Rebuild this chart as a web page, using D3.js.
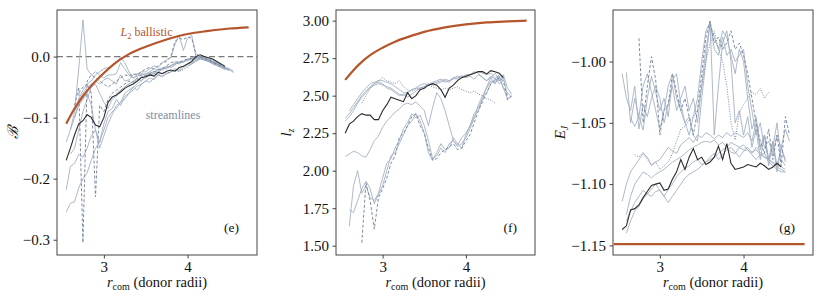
<!DOCTYPE html>
<html>
<head>
<meta charset="utf-8">
<script src="https://cdn.jsdelivr.net/npm/d3@7"></script>
<style>
  body { margin: 0; background: #fff; }
  text { font-family: "Liberation Serif", "DejaVu Serif", serif; }
</style>
</head>
<body>
<div id="chart"></div>
<script>
// shared radius grid for the streamlines (donor radii)
var rGrid = [2.55,2.60,2.65,2.70,2.75,2.80,2.85,2.90,2.95,3.00,
             3.05,3.10,3.15,3.20,3.25,3.30,3.35,3.40,3.45,3.50,
             3.55,3.60,3.65,3.70,3.75,3.80,3.85,3.90,3.95,4.00,
             4.05,4.10,4.15,4.20,4.25,4.30,4.35,4.40,4.45,4.50,
             4.55,4.60];

// L2 ballistic curves
var ballR  = [2.55,2.65,2.75,2.85,3.00,3.15,3.30,3.50,3.75,4.00,4.25,4.50,4.73];
var ballB  = [-0.110,-0.085,-0.065,-0.048,-0.027,-0.009,0.004,0.016,0.028,0.037,0.042,0.046,0.048];
var ballLz = [2.605,2.670,2.725,2.770,2.820,2.860,2.890,2.925,2.955,2.975,2.988,2.995,3.000];
var ballRE = [2.45,4.73];
var ballE  = [-1.149,-1.149];

// ---- panel (e): Bernoulli B ----
var B_dark = [-0.170,-0.150,-0.128,-0.110,-0.105,-0.095,-0.100,-0.112,-0.115,-0.100,
              -0.075,-0.066,-0.063,-0.058,-0.052,-0.048,-0.045,-0.040,-0.034,-0.033,
              -0.030,-0.032,-0.026,-0.028,-0.024,-0.022,-0.024,-0.018,-0.016,-0.012,
              -0.008,0.000,0.003,0.000,-0.002,-0.004,-0.008,-0.012,-0.016,null,
              null,null];
var B_s1 = [null,null,-0.090,-0.020,0.060,-0.020,-0.030,-0.025,-0.030,-0.035,
            -0.030,-0.030,-0.028,-0.010,-0.020,-0.030,-0.035,-0.032,-0.030,-0.028,
            -0.025,-0.020,-0.022,-0.018,-0.020,-0.015,-0.012,-0.010,-0.008,-0.006,
            -0.004,-0.002,0.000,-0.002,-0.004,-0.008,-0.012,-0.016,-0.020,-0.022,
            null,null];
var B_s2 = [null,-0.120,-0.090,-0.070,-0.055,-0.045,-0.040,-0.030,-0.025,-0.020,
            -0.018,-0.015,-0.010,0.000,-0.010,-0.025,-0.035,-0.030,-0.028,-0.030,
            -0.025,-0.028,-0.020,-0.022,-0.018,-0.015,-0.010,-0.012,-0.008,-0.005,
            -0.003,-0.002,0.000,-0.001,-0.003,-0.006,-0.010,-0.014,-0.018,-0.022,
            -0.026,null];
var B_s3 = [null,null,-0.100,-0.075,-0.060,-0.050,-0.045,-0.040,-0.045,-0.038,
            -0.035,-0.040,-0.045,-0.030,-0.040,-0.038,-0.030,-0.028,-0.025,-0.025,
            -0.020,-0.015,-0.018,-0.010,-0.005,-0.002,0.020,0.035,0.010,0.030,
            0.035,0.000,-0.002,-0.004,-0.006,-0.008,-0.010,-0.014,-0.018,-0.020,
            null,null];
var B_s4 = [-0.255,-0.240,-0.238,-0.215,-0.200,-0.190,-0.170,-0.150,-0.140,-0.120,
            -0.100,-0.090,-0.085,-0.075,-0.070,-0.060,-0.055,-0.048,-0.045,-0.040,
            -0.035,-0.038,-0.030,-0.032,-0.028,-0.025,-0.022,-0.024,-0.018,-0.015,
            -0.012,-0.008,-0.004,-0.006,-0.008,-0.012,-0.015,-0.018,-0.022,null,
            null,null];
var B_s5 = [-0.218,-0.180,-0.175,-0.160,-0.165,-0.150,-0.130,-0.120,-0.140,-0.110,
            -0.090,-0.085,-0.070,-0.080,-0.065,-0.060,-0.050,-0.055,-0.045,-0.040,
            -0.042,-0.035,-0.030,-0.033,-0.028,-0.025,-0.020,-0.022,-0.015,-0.012,
            -0.010,-0.006,-0.003,-0.005,-0.008,-0.011,-0.014,-0.017,-0.020,-0.023,
            null,null];
var B_s6 = [-0.140,-0.120,-0.100,-0.080,-0.070,-0.060,-0.080,-0.120,-0.150,-0.130,
            -0.110,-0.095,-0.080,-0.075,-0.060,-0.055,-0.050,-0.045,-0.038,-0.035,
            -0.030,-0.028,-0.025,-0.020,-0.018,-0.015,-0.012,-0.010,-0.008,-0.006,
            -0.005,-0.004,-0.003,-0.004,-0.006,-0.009,-0.012,-0.015,-0.018,-0.020,
            -0.024,null];
var B_s7 = [null,-0.160,-0.150,-0.120,-0.090,-0.070,-0.050,-0.045,-0.060,-0.075,
            -0.085,-0.070,-0.065,-0.055,-0.050,-0.045,-0.040,-0.036,-0.040,-0.030,
            -0.028,-0.024,-0.026,-0.020,-0.016,-0.018,-0.014,-0.008,-0.010,-0.004,
            -0.002,0.001,-0.001,-0.004,-0.006,-0.010,-0.013,-0.016,-0.019,-0.021,
            null,null];
var B_d1 = [null,null,-0.080,-0.050,-0.305,-0.040,-0.030,-0.035,-0.040,-0.045,
            -0.050,-0.045,-0.040,-0.035,-0.030,-0.032,-0.028,-0.030,-0.025,-0.020,
            -0.018,-0.020,-0.015,-0.010,-0.008,0.000,0.025,0.030,0.028,0.032,
            0.030,0.005,0.000,-0.003,-0.006,-0.010,-0.012,-0.016,-0.018,null,
            null,null];
var B_d2 = [null,null,null,-0.060,-0.050,-0.045,-0.060,-0.230,-0.080,-0.090,
            -0.070,-0.060,-0.055,-0.050,-0.045,-0.040,-0.042,-0.035,-0.030,-0.032,
            -0.028,-0.025,-0.022,-0.020,-0.015,-0.010,-0.008,-0.010,-0.006,-0.004,
            -0.003,-0.002,0.000,-0.002,-0.005,-0.008,-0.012,-0.015,null,null,
            null,null];
var B_dot = [null,null,null,null,null,null,null,null,null,null,
             null,null,-0.060,-0.055,-0.050,-0.045,-0.042,-0.038,-0.035,-0.032,
             -0.030,-0.028,-0.030,-0.026,-0.027,-0.025,-0.023,-0.024,-0.021,-0.018,
             -0.012,-0.006,-0.003,-0.005,-0.008,-0.011,-0.015,null,null,null,
             null,null];

// ---- panel (f): specific angular momentum l_z ----
var L_dark = [2.25,2.31,2.33,2.36,2.38,2.37,2.37,2.34,2.34,2.40,
              2.44,2.49,2.48,2.47,2.46,2.52,2.48,2.50,2.54,2.55,
              2.57,2.58,2.57,2.54,2.49,2.55,2.57,2.60,2.62,2.63,
              2.64,2.65,2.66,2.66,2.645,2.667,2.66,2.65,2.62,null,
              null,null];
var L_u1 = [null,2.40,2.44,2.48,2.52,2.55,2.58,2.59,2.60,2.60,
            2.59,2.58,2.56,2.54,2.52,2.52,2.54,2.55,2.55,2.56,
            2.57,2.58,2.59,2.60,2.59,2.60,2.61,2.62,2.63,2.63,
            2.64,2.65,2.66,2.65,2.64,2.65,2.62,2.58,2.60,null,
            null,null];
var L_u2 = [2.33,2.36,2.40,2.45,2.49,2.52,2.55,2.57,2.58,2.57,
            2.56,2.55,2.53,2.51,2.50,2.52,2.54,2.55,2.57,2.58,
            2.57,2.59,2.60,2.61,2.60,2.59,2.62,2.63,2.62,2.64,
            2.64,2.66,2.65,2.62,2.60,2.62,2.58,2.63,2.55,2.48,
            2.50,null];
var L_u3 = [2.35,2.38,2.42,2.46,2.50,2.53,2.56,2.58,2.59,2.58,
            2.55,2.54,2.52,2.50,2.51,2.49,2.51,2.53,2.55,2.56,
            2.58,2.57,2.58,2.59,2.61,2.60,2.62,2.61,2.63,2.62,
            2.63,2.61,2.64,2.62,2.60,2.63,2.61,2.64,2.62,null,
            null,null];
var L_mid = [2.095,2.11,2.13,2.12,2.10,2.09,2.14,2.20,2.23,2.29,
             2.33,2.36,2.39,2.41,2.44,2.45,2.44,2.46,2.43,2.40,
             2.30,2.42,2.52,2.48,2.40,2.30,2.20,2.17,2.22,2.25,
             2.30,2.36,2.40,2.48,2.52,2.58,2.61,2.60,2.62,2.50,
             null,null];
var L_low1 = [null,1.63,1.90,2.00,1.85,1.90,1.82,1.80,1.85,1.95,
              2.05,2.08,2.15,2.20,2.28,2.32,2.38,2.35,2.37,2.30,
              2.20,2.08,2.10,2.15,2.12,2.18,2.20,2.16,2.18,2.22,
              2.28,2.35,2.44,2.50,2.55,2.60,2.58,2.63,2.55,2.52,
              2.49,null];
var L_low2 = [null,1.74,1.72,1.80,1.88,1.93,1.88,1.78,1.84,1.90,
              2.00,2.10,2.12,2.18,2.24,2.30,2.33,2.38,2.33,2.25,
              2.12,2.07,2.12,2.18,2.14,2.15,2.22,2.18,2.15,2.24,
              2.30,2.38,2.42,2.48,2.56,2.62,2.65,2.60,2.64,2.55,
              2.51,null];
var L_d1 = [null,null,null,null,1.52,1.92,1.80,1.61,1.82,1.88,
            1.95,2.05,2.10,2.22,2.25,2.30,2.36,2.38,2.30,2.25,
            2.15,2.07,2.08,2.12,2.14,2.16,2.18,2.14,2.15,2.20,
            2.24,2.32,2.40,2.46,2.52,2.58,2.60,2.62,2.60,2.47,
            2.50,null];
var L_dot = [null,null,null,null,2.45,2.50,2.55,2.58,2.60,2.62,
             2.60,2.59,2.58,2.60,2.56,2.54,2.53,2.54,2.55,2.56,
             2.57,2.56,2.55,2.54,2.55,2.54,2.55,2.56,2.54,2.53,
             2.52,2.53,2.51,2.50,2.48,2.47,2.45,null,null,null,
             null,null];

// ---- panel (g): Jacobi energy E_J ----
var E_dark = [-1.137,-1.134,-1.121,-1.120,-1.117,-1.111,-1.106,-1.101,-1.100,-1.099,
              -1.105,-1.104,-1.096,-1.090,-1.080,-1.088,-1.078,-1.071,-1.080,-1.078,
              -1.084,-1.082,-1.078,-1.069,-1.080,-1.067,-1.083,-1.088,-1.087,-1.086,
              -1.084,-1.085,-1.086,-1.083,-1.085,-1.088,-1.086,-1.083,-1.086,null,
              null,null];
var E_u2 = [null,-1.009,-1.050,-1.030,-1.045,-1.020,-1.010,-1.025,-1.040,-1.055,
            -1.040,-1.020,-1.010,-1.030,-1.040,-1.050,-1.060,-1.045,-1.030,-1.000,
            -0.975,-0.968,-0.990,-0.995,-0.980,-0.995,-0.990,-1.000,-0.995,-0.990,
            -1.020,-1.040,-1.060,-1.050,-1.070,-1.065,-1.075,-1.060,-1.070,-1.055,
            -1.065,null];
var E_u3 = [null,null,-1.046,-1.053,-1.045,-1.056,-1.030,-1.012,-1.025,-1.040,
            -1.030,-1.045,-1.015,-1.010,-1.035,-1.050,-1.045,-1.060,-1.065,-1.030,
            -1.000,-0.967,-1.060,-1.020,-0.985,-0.975,-1.000,-1.050,-1.040,-1.060,
            -1.045,-1.070,-1.055,-1.080,-1.060,-1.085,-1.065,-1.090,-1.070,-1.080,
            null,null];
var E_u4 = [-1.010,-1.030,-1.040,-1.020,-1.055,-1.035,-1.045,-1.030,-1.020,-1.030,
            -1.050,-1.035,-1.020,-1.040,-1.030,-1.020,-1.040,-1.030,-1.050,-1.020,
            -0.990,-0.970,-0.980,-0.990,-0.975,-0.980,-0.995,-1.010,-0.990,-1.000,
            -1.030,-1.055,-1.045,-1.070,-1.060,-1.080,-1.070,-1.050,-1.080,-1.085,
            null,null];
var E_l1 = [-1.114,-1.100,-1.090,-1.085,-1.080,-1.075,-1.078,-1.085,-1.082,-1.080,
            -1.075,-1.070,-1.073,-1.075,-1.068,-1.065,-1.062,-1.066,-1.060,-1.062,
            -1.058,-1.060,-1.063,-1.060,-1.062,-1.058,-1.061,-1.058,-1.060,-1.062,
            -1.058,-1.065,-1.050,-1.072,-1.060,-1.080,-1.065,-1.085,-1.070,-1.082,
            null,null];
var E_l2 = [null,-1.125,-1.110,-1.100,-1.095,-1.090,-1.092,-1.095,-1.092,-1.090,
            -1.088,-1.085,-1.082,-1.080,-1.078,-1.075,-1.072,-1.070,-1.068,-1.066,
            -1.065,-1.066,-1.064,-1.068,-1.066,-1.070,-1.066,-1.068,-1.070,-1.072,
            -1.070,-1.074,-1.072,-1.076,-1.078,-1.080,-1.082,-1.084,-1.086,-1.088,
            null,null];
var E_l3 = [null,-1.130,-1.122,-1.115,-1.110,-1.105,-1.108,-1.110,-1.106,-1.105,
            -1.110,-1.104,-1.100,-1.094,-1.090,-1.087,-1.085,-1.082,-1.080,-1.084,
            -1.082,-1.078,-1.075,-1.080,-1.076,-1.072,-1.070,-1.074,-1.078,-1.073,
            -1.072,-1.076,-1.080,-1.076,-1.075,-1.082,-1.085,-1.088,-1.090,-1.090,
            null,null];
var E_l4 = [null,-1.140,-1.130,-1.122,-1.118,-1.112,-1.108,-1.104,-1.100,-1.105,
            -1.110,-1.115,-1.110,-1.105,-1.100,-1.095,-1.092,-1.090,-1.088,-1.085,
            -1.082,-1.080,-1.078,-1.075,-1.072,-1.070,-1.074,-1.075,-1.070,-1.068,
            -1.072,-1.075,-1.070,-1.074,-1.078,-1.080,-1.083,-1.086,-1.088,-1.090,
            null,null];
var E_u1 = [null,null,null,null,-0.981,-1.050,-1.020,-0.996,-1.015,-1.060,
            -1.040,-1.035,-1.010,-1.025,-1.040,-1.030,-1.045,-1.060,-1.040,-1.010,
            -0.980,-0.967,-0.985,-0.980,-0.990,-0.985,-0.975,-0.990,-0.985,-0.995,
            -1.010,-1.030,-1.050,-1.065,-1.075,-1.055,-1.080,-1.060,-1.085,-1.045,
            -1.060,null];
var E_dot = [null,null,null,-1.076,-1.078,-1.074,-1.080,-1.084,-1.082,-1.088,
             -1.085,-1.082,-1.075,-1.065,-1.055,-1.053,-1.048,-1.045,-1.040,-1.020,
             -1.000,-0.985,-0.975,-0.990,-1.000,-1.020,-1.050,-1.064,-1.042,-1.035,
             -1.030,-1.025,-1.027,-1.022,-1.030,-1.025,null,null,null,null,
             null,null];

// tick values
var xTicks  = [3, 4];
var bTicks  = [-0.3, -0.2, -0.1, 0.0];
var lzTicks = [1.50, 1.75, 2.00, 2.25, 2.50, 2.75, 3.00];
var eTicks  = [-1.15, -1.10, -1.05, -1.00];

var W = 822, H = 298;
var padTop = 10, ph = 245;
var xDomain = [2.44, 4.83];
var brown = "#b5552c", frameCol = "#444";
var serif = "'Liberation Serif', 'DejaVu Serif', serif";

var svg = d3.select("#chart").append("svg")
    .attr("width", W).attr("height", H);

function pairs(xs, ys) {
  return xs.map(function(r, i) { return [r, ys[i]]; });
}

function drawPanel(p) {
  var g = svg.append("g").attr("transform", "translate(" + p.left + "," + padTop + ")");
  var x = d3.scaleLinear().domain(xDomain).range([0, p.width]);
  var y = d3.scaleLinear().domain(p.yDomain).range([ph, 0]);

  var line = d3.line()
      .defined(function(d) { return d[1] != null; })
      .x(function(d) { return x(d[0]); })
      .y(function(d) { return y(d[1]); });

  if (p.zeroLine) {
    g.append("line")
      .attr("x1", 0).attr("x2", p.width)
      .attr("y1", y(0)).attr("y2", y(0))
      .attr("stroke", "#7a7a7a").attr("stroke-width", 1.4)
      .attr("stroke-dasharray", "6,3.5");
  }

  // streamlines
  p.solid.forEach(function(s) {
    g.append("path").attr("d", line(pairs(rGrid, s)))
      .attr("fill", "none").attr("stroke", "#9fadbf")
      .attr("stroke-opacity", 0.85).attr("stroke-width", 1);
  });
  p.dashed.forEach(function(s) {
    g.append("path").attr("d", line(pairs(rGrid, s)))
      .attr("fill", "none").attr("stroke", "#7b8ca4")
      .attr("stroke-width", 1).attr("stroke-dasharray", "3,2");
  });
  p.dotted.forEach(function(s) {
    g.append("path").attr("d", line(pairs(rGrid, s)))
      .attr("fill", "none").attr("stroke", "#7b8ca4")
      .attr("stroke-width", 1).attr("stroke-dasharray", "1,1.5");
  });
  g.append("path").attr("d", line(pairs(rGrid, p.dark)))
    .attr("fill", "none").attr("stroke", "#2a2a2a").attr("stroke-width", 1.1);

  // ballistic curve
  var curve = d3.line()
      .x(function(d) { return x(d[0]); })
      .y(function(d) { return y(d[1]); })
      .curve(d3.curveMonotoneX);
  g.append("path").attr("d", curve(pairs(p.ballX, p.ballY)))
    .attr("fill", "none").attr("stroke", brown).attr("stroke-width", 2.2);

  // frame
  g.append("rect").attr("width", p.width).attr("height", ph)
    .attr("fill", "none").attr("stroke", frameCol).attr("stroke-width", 1);

  // axes
  var yAxis = d3.axisLeft(y).tickValues(p.yTicks).tickFormat(d3.format(p.fmt))
      .tickSize(3.5).tickPadding(3.5);
  var gy = g.append("g").call(yAxis);
  var xAxis = d3.axisBottom(x).tickValues(xTicks).tickFormat(d3.format("d"))
      .tickSize(3.5).tickPadding(3);
  var gx = g.append("g").attr("transform", "translate(0," + ph + ")").call(xAxis);
  [gx, gy].forEach(function(a) {
    a.attr("font-family", serif).attr("font-size", 15);
    a.select(".domain").remove();
    a.selectAll(".tick line").attr("stroke", frameCol);
    a.selectAll(".tick text").attr("fill", "#111");
  });

  // x label
  var xl = g.append("text").attr("x", p.width / 2).attr("y", ph + 32)
      .attr("text-anchor", "middle").attr("fill", "#111").style("font-size", "14.5px");
  xl.append("tspan").style("font-style", "italic").text("r");
  xl.append("tspan").attr("dy", 3).style("font-size", "10px").text("com");
  xl.append("tspan").attr("dy", -3).text(" (donor radii)");

  // y label
  var yl = g.append("text")
      .attr("transform", "translate(" + (-p.ylabOff) + "," + (ph / 2) + ") rotate(-90)")
      .attr("text-anchor", "middle").attr("fill", "#111").style("font-size", "15px");
  p.ylab(yl);

  // panel tag
  g.append("text").attr("x", p.width - 18).attr("y", 222)
    .attr("text-anchor", "end").attr("fill", "#111").style("font-size", "13.5px")
    .text(p.tag);

  return {g: g, x: x, y: y};
}

var pe = drawPanel({
  left: 57, width: 200, yDomain: [-0.325, 0.0763], yTicks: bTicks, fmt: ".1f",
  zeroLine: true, tag: "(e)", ylabOff: 39,
  ylab: function(t) { t.append("tspan").style("font-style", "italic").text("\u212C"); },
  dark: B_dark, solid: [B_s1, B_s2, B_s3, B_s4, B_s5, B_s6, B_s7],
  dashed: [B_d1, B_d2], dotted: [B_dot],
  ballX: ballR, ballY: ballB
});

// annotations in panel (e)
var lab = pe.g.append("text").attr("x", pe.x(3.20)).attr("y", 26)
    .attr("fill", brown).style("font-size", "12px");
lab.append("tspan").style("font-style", "italic").text("L");
lab.append("tspan").attr("dy", 2.5).style("font-size", "8.5px").text("2");
lab.append("tspan").attr("dy", -2.5).text(" ballistic");
pe.g.append("text").attr("x", pe.x(3.50)).attr("y", 109)
  .attr("fill", "#7d8ea5").style("font-size", "12px").text("streamlines");

drawPanel({
  left: 336, width: 199, yDomain: [1.438, 3.071], yTicks: lzTicks, fmt: ".2f",
  zeroLine: false, tag: "(f)", ylabOff: 45,
  ylab: function(t) {
    t.append("tspan").style("font-style", "italic").text("l");
    t.append("tspan").attr("dy", 3).style("font-size", "10px").style("font-style", "italic").text("z");
  },
  dark: L_dark, solid: [L_u1, L_u2, L_u3, L_mid, L_low1, L_low2],
  dashed: [L_d1], dotted: [L_dot],
  ballX: ballR, ballY: ballLz
});

drawPanel({
  left: 613, width: 200, yDomain: [-1.1578, -0.958], yTicks: eTicks, fmt: ".2f",
  zeroLine: false, tag: "(g)", ylabOff: 48,
  ylab: function(t) {
    t.append("tspan").style("font-style", "italic").text("E");
    t.append("tspan").attr("dy", 3).style("font-size", "10px").style("font-style", "italic").text("J");
  },
  dark: E_dark, solid: [E_u2, E_u3, E_u4, E_l1, E_l2, E_l3, E_l4],
  dashed: [E_u1], dotted: [E_dot],
  ballX: ballRE, ballY: ballE
});
</script>
</body>
</html>
